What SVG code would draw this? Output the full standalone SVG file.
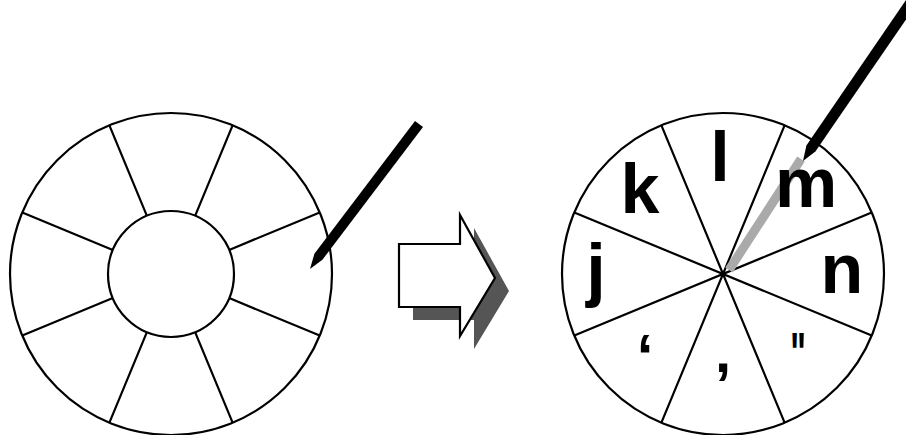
<svg xmlns="http://www.w3.org/2000/svg" width="906" height="435" viewBox="0 0 906 435">
<style>
.ln{fill:none;stroke:#000;stroke-width:2.2}
.lt{font-family:"Liberation Sans",Arial,sans-serif;font-weight:bold;fill:#000;text-anchor:middle}
</style>
<rect width="906" height="435" fill="#fff"/>
<g id="wheel-left">
<circle class="ln" cx="171" cy="274" r="161"/>
<circle class="ln" cx="171" cy="274" r="63"/>
<path class="ln" d="M229.2,298.1L319.7,335.6M195.1,332.2L232.6,422.7M146.9,332.2L109.4,422.7M112.8,298.1L22.3,335.6M112.8,249.9L22.3,212.4M146.9,215.8L109.4,125.3M195.1,215.8L232.6,125.3M229.2,249.9L319.7,212.4"/>
</g>
<g id="pen-left">
<polygon points="415,121 423,127 322.4,259.8 310,269 314.4,253.8" fill="#000"/>
</g>
<g id="arrow">
<polygon points="399,244 460,244 460,215 495,278 460,336 460,307 399,307" fill="#555" transform="translate(14,13)"/>
<polygon points="399,244 460,244 460,215 495,278 460,336 460,307 399,307" fill="#fff" stroke="#000" stroke-width="2.2"/>
</g>
<g id="wheel-right">
<circle class="ln" cx="723" cy="274" r="161"/>
<path class="ln" d="M871.7,335.6L574.3,212.4M784.6,422.7L661.4,125.3M661.4,422.7L784.6,125.3M574.3,335.6L871.7,212.4"/>
<line x1="801" y1="159" x2="729" y2="270" stroke="#aaa" stroke-width="9"/>
<text class="lt" x="640" y="213" font-size="70">k</text>
<text class="lt" x="720" y="181" font-size="70">l</text>
<text class="lt" x="806" y="207" font-size="70">m</text>
<text class="lt" x="842" y="293" font-size="70">n</text>
<text class="lt" x="596" y="293" font-size="70">j</text>
<text class="lt" x="645" y="376" font-size="60">‘</text>
<text class="lt" font-size="60" transform="translate(798,374) scale(0.55,1)">"</text>
<text class="lt" x="723" y="372" font-size="58">,</text>
</g>
<g id="pen-right">
<polygon points="907.5,-2.1 916.5,4.1 815.4,151.6 803,161 806.4,145.4" fill="#000"/>
</g>
</svg>
